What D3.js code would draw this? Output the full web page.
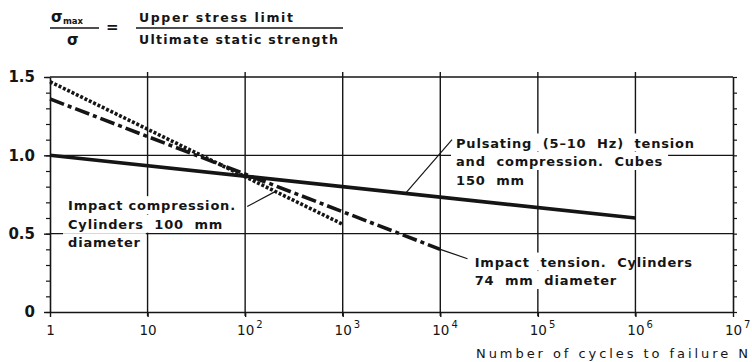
<!DOCTYPE html>
<html>
<head>
<meta charset="utf-8">
<script src="https://cdn.jsdelivr.net/npm/d3@7"></script>
<style>
  body { margin: 0; background: #fff; }
  svg { display: block; }
  text { font-family: "DejaVu Sans", sans-serif; font-weight: 700; fill: #151515; }
</style>
</head>
<body>
<svg id="chart" width="752" height="362"></svg>
<script>
// ratio sigma_max / sigma, N on a log axis
const pulsatingN = [1, 1e6];
const pulsatingS = [1.00, 0.60];
const tensionN = [1, 1e4];
const tensionS = [1.36, 0.40];
const compressionN = [1, 1e3];
const compressionS = [1.47, 0.56];

const xTicks = [1, 10, 1e2, 1e3, 1e4, 1e5, 1e6, 1e7];
const xTickBase = ['1', '10', '10', '10', '10', '10', '10', '10'];
const xTickExp = ['', '', '2', '3', '4', '5', '6', '7'];
const yTicks = [0, 0.5, 1.0, 1.5];
const yTickLabels = ['0', '0.5', '1.0', '1.5'];
const yMinor = [0, 0.1, 0.2, 0.3, 0.4, 0.5, 0.6, 0.7, 0.8, 0.9, 1.0, 1.1, 1.2, 1.3, 1.4, 1.5];

const labelLines = [
  ['Impact compression.', 'Cylinders  100  mm', 'diameter'],
  ['Pulsating  (5\u201310  Hz)  tension', 'and  compression.  Cubes', '150  mm'],
  ['Impact  tension.  Cylinders', '74  mm  diameter']
];
// label anchor (N, ratio of first baseline), leader from / to
const labelAt = [[1.53, 0.65], [1.45e4, 1.05], [2.25e4, 0.29]];
const labelBgEnd = [null, null, 8e5];
const leaderFrom = [[105, 0.673], [4.4e3, 0.757], [1e4, 0.40]];
const leaderTo = [[205, 0.77], [1.32e4, 1.10], [1.9e4, 0.34]];

const svg = d3.select('#chart');
const x = d3.scaleLog().domain([1, 1e7]).range([50, 733]);
const y = d3.scaleLinear().domain([0, 1.5]).range([312, 77]);
const ink = '#151515';

// ---- formula heading
const head = svg.append('g').style('font-size', '12.5px');
head.append('text').attr('x', 51).attr('y', 22).style('font-size', '15px').text('\u03c3');
head.append('text').attr('x', 63).attr('y', 24).style('font-size', '8.5px').text('max');
head.append('line').attr('x1', 50).attr('x2', 99).attr('y1', 28).attr('y2', 28).attr('stroke', ink).attr('stroke-width', 1.5);
head.append('text').attr('x', 67).attr('y', 45).style('font-size', '15px').text('\u03c3');
head.append('text').attr('x', 106).attr('y', 32).style('font-size', '15px').text('=');
head.append('text').attr('x', 139).attr('y', 22).attr('textLength', 154).attr('lengthAdjust', 'spacing')
  .text('Upper stress limit');
head.append('line').attr('x1', 136).attr('x2', 343).attr('y1', 28).attr('y2', 28).attr('stroke', ink).attr('stroke-width', 1.5);
head.append('text').attr('x', 139).attr('y', 44).attr('textLength', 199).attr('lengthAdjust', 'spacing')
  .text('Ultimate static strength');

// ---- grid
const grid = svg.append('g').attr('stroke', ink).attr('stroke-width', 1.4);
grid.selectAll('line.v').data(xTicks.slice(1, -1)).enter().append('line')
  .attr('x1', d => x(d)).attr('x2', d => x(d))
  .attr('y1', y(0) + 4).attr('y2', y(1.5) - 5);
grid.selectAll('line.h').data([0.5, 1.0, 1.5]).enter().append('line')
  .attr('x1', x(1)).attr('x2', x(1e7))
  .attr('y1', d => y(d)).attr('y2', d => y(d));

// ---- axes
const xAxis = svg.append('g')
  .attr('transform', `translate(0,${y(0)})`)
  .call(d3.axisBottom(x).tickValues(xTicks).tickSize(5).tickSizeOuter(0).tickFormat(''));
xAxis.select('.domain').attr('stroke', ink).attr('stroke-width', 1.6);
xAxis.selectAll('.tick line').attr('stroke', ink).attr('stroke-width', 1.4);
xAxis.selectAll('.tick').each(function(d, i) {
  // "10" centred on the tick, exponent hanging to its right
  const t = d3.select(this).append('text').attr('y', 23).attr('text-anchor', 'start')
    .style('font-size', '13.5px').style('font-weight', 400);
  const base = t.append('tspan').text(xTickBase[i]);
  const w = base.node().getComputedTextLength();
  t.attr('x', -w / 2);
  if (xTickExp[i]) {
    t.append('tspan').attr('dx', 2).attr('dy', -7).style('font-size', '10px').text(xTickExp[i]);
  }
});

const yAxis = svg.append('g')
  .attr('transform', `translate(${x(1)},0)`)
  .call(d3.axisLeft(y).tickValues(yTicks).tickSize(6).tickSizeOuter(0).tickPadding(9)
    .tickFormat((d, i) => yTickLabels[i]));
yAxis.select('.domain').attr('stroke', ink).attr('stroke-width', 1.6);
yAxis.selectAll('.tick line').attr('stroke', ink).attr('stroke-width', 1.4);
yAxis.selectAll('.tick text').style('font-size', '15px').attr('fill', ink);
yAxis.attr('font-family', null);

svg.append('g').attr('transform', `translate(${x(1)},0)`)
  .call(d3.axisLeft(y).tickValues(yMinor).tickSize(4).tickSizeOuter(0).tickFormat(''))
  .call(g => g.selectAll('line').attr('stroke', ink).attr('stroke-width', 1.2))
  .call(g => g.select('.domain').remove());

const rAxis = svg.append('g').attr('transform', `translate(${x(1e7)},0)`)
  .call(d3.axisRight(y).tickValues(yMinor).tickSize(4).tickSizeOuter(0).tickFormat(''));
rAxis.select('.domain').attr('stroke', ink).attr('stroke-width', 1.6);
rAxis.selectAll('line').attr('stroke', ink).attr('stroke-width', 1.2);

svg.append('text').attr('x', 476).attr('y', 358)
  .attr('textLength', 272).attr('lengthAdjust', 'spacing')
  .style('font-size', '13px').style('font-weight', 400)
  .text('Number of cycles to failure N');

// ---- labels (white boxes break the grid lines)
const lineH = 18.5;
const labels = svg.append('g').style('font-size', '13px').style('letter-spacing', '0.8px');
labelLines.forEach((lines, k) => {
  const x0 = x(labelAt[k][0]);
  const g = labels.append('g').attr('transform', `translate(${x0},${y(labelAt[k][1])})`);
  lines.forEach((s, j) => {
    const bg = g.append('rect').attr('fill', '#fff');
    const t = g.append('text').attr('y', j * lineH).attr('xml:space', 'preserve').text(s);
    const b = t.node().getBBox();
    let w = b.width + 10;
    if (labelBgEnd[k]) w = Math.min(w, x(labelBgEnd[k]) - x0 - b.x + 5);
    bg.attr('x', b.x - 5).attr('y', b.y - 2).attr('width', w).attr('height', b.height + 3);
  });
});

// leader lines
svg.append('g').selectAll('line').data(leaderFrom).enter().append('line')
  .attr('x1', d => x(d[0])).attr('y1', d => y(d[1]))
  .attr('x2', (d, i) => x(leaderTo[i][0])).attr('y2', (d, i) => y(leaderTo[i][1]))
  .attr('stroke', ink).attr('stroke-width', 1.2);

// ---- data lines
const line = d3.line().x(d => x(d[0])).y(d => y(d[1]));
const series = [
  { n: pulsatingN, s: pulsatingS, dash: null },
  { n: tensionN, s: tensionS, dash: '15,4,4,4' },
  { n: compressionN, s: compressionS, dash: '3,1.8' }
];
svg.append('g').selectAll('path').data(series).enter().append('path')
  .attr('d', d => line(d.n.map((v, i) => [v, d.s[i]])))
  .attr('fill', 'none').attr('stroke', ink).attr('stroke-width', 3.6)
  .attr('stroke-dasharray', d => d.dash);
</script>
</body>
</html>
